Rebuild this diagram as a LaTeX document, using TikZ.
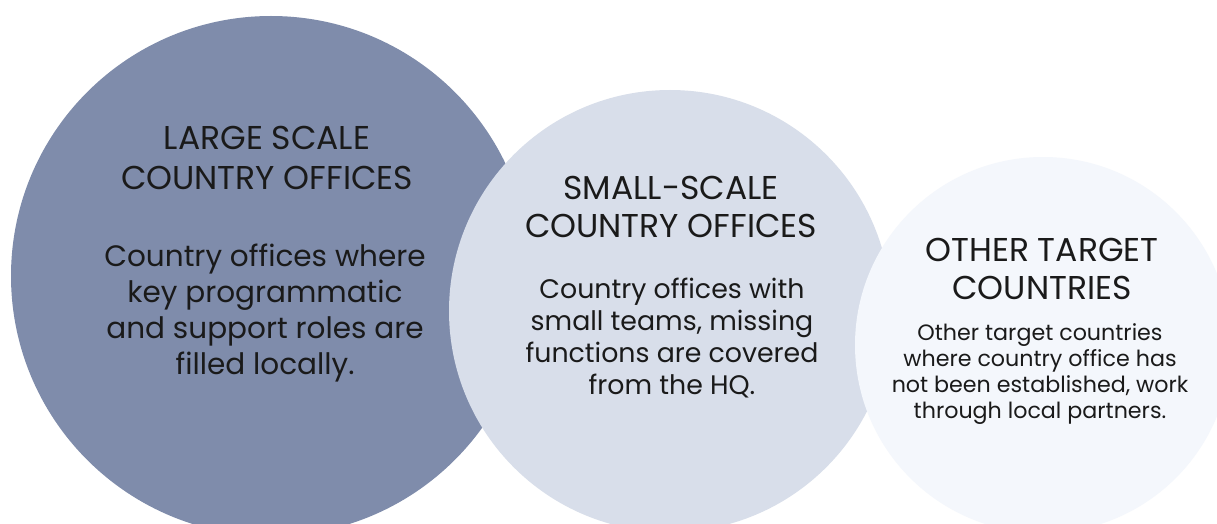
\documentclass[tikz,border=0pt]{standalone}
\usepackage{fontspec}
\setmainfont{Poppins}
\definecolor{cdark}{HTML}{7F8CAB}
\definecolor{cmid}{HTML}{D8DEEA}
\definecolor{clight}{HTML}{F4F7FC}
\definecolor{ctext}{HTML}{1A1A1A}
\tikzset{
  disc/.style={circle, inner sep=0pt, draw=none},
  txt/.style={text=ctext, align=center, inner sep=0pt},
}
\newcommand{\fs}[2]{\fontsize{#1}{#2}\selectfont}
\begin{document}
\begin{tikzpicture}[x=1pt,y=-1pt]
\useasboundingbox (0,0) rectangle (1217,524);
\clip (0,0) rectangle (1217,524);
\fill[white] (0,0) rectangle (1217,524);
\node[disc, fill=cdark, minimum size=520pt] (c1) at (271,276) {};
\node[disc, fill=cmid, minimum size=442pt] (c2) at (670,311) {};
\node[disc, fill=clight, minimum size=376pt] (c3) at (1043,345) {};
\node[txt, font=\fs{33}{40}] (lh) at (267,158) {LARGE SCALE\\COUNTRY OFFICES};
\node[txt, font=\fs{29.5}{35.7}] (lb) at (265,313) {Country offices where\\key programmatic\\and support roles are\\filled locally.};
\node[txt, font=\fs{33}{38}] (mh) at (671,207) {SMALL-SCALE\\COUNTRY OFFICES};
\node[txt, font=\fs{26.8}{32}] (mb) at (672,338) {Country offices with\\small teams, missing\\functions are covered\\from the HQ.};
\node[txt, font=\fs{33}{38}] (rh) at (1042,269) {OTHER TARGET\\COUNTRIES};
\node[txt, font=\fs{22.2}{26}] (rb) at (1040,374) {Other target countries\\where country office has\\not been established, work\\through local partners.};
\end{tikzpicture}
\end{document}
